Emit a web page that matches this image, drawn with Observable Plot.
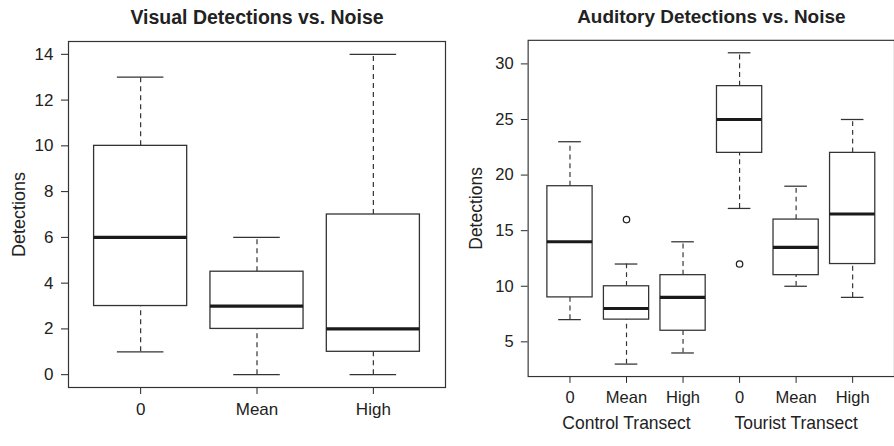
<!DOCTYPE html>
<html>
<head>
<meta charset="utf-8">
<script src="https://cdn.jsdelivr.net/npm/d3@7"></script>
<script src="https://cdn.jsdelivr.net/npm/@observablehq/plot@0.6"></script>
<style>
  html, body { margin: 0; padding: 0; background: #fff; }
  #wrap { position: relative; width: 894px; height: 446px; overflow: hidden; background: #fff; }
  #left { position: absolute; left: 0; top: 0; }
  #right { position: absolute; left: 447px; top: 0; }
</style>
</head>
<body>
<div id="wrap"><div id="left"></div><div id="right"></div></div>
<script>
// ---- Data: Visual detections ----
const visTitle = "Visual Detections vs. Noise";
const visCats = ["0", "Mean", "High"];
const visMin = [1, 0, 0];
const visQ1  = [3, 2, 1];
const visMed = [6, 3, 2];
const visQ3  = [10, 4.5, 7];
const visMax = [13, 6, 14];
const visTicks = [0, 2, 4, 6, 8, 10, 12, 14];

// ---- Data: Auditory detections ----
const audTitle = "Auditory Detections vs. Noise";
const audCats = ["0", "Mean", "High", "0", "Mean", "High"];
const audMin = [7, 3, 4, 17, 10, 9];
const audQ1  = [9, 7, 6, 22, 11, 12];
const audMed = [14, 8, 9, 25, 13.5, 16.5];
const audQ3  = [19, 10, 11, 28, 16, 22];
const audMax = [23, 12, 14, 31, 19, 25];
const audOutGroup = [2, 4];
const audOutValue = [16, 12];
const audTicks = [5, 10, 15, 20, 25, 30];
const groupLabels = ["Control Transect", "Tourist Transect"];
const groupCenters = [2, 5];

const yLabel = "Detections";

const LINE = "#333";
const FONT = "'Liberation Sans', Arial, Helvetica, sans-serif";

function rowsOf(cats, mn, q1, md, q3, mx) {
  return cats.map((c, i) => ({pos: i + 1, cat: c, min: mn[i], q1: q1[i], med: md[i], q3: q3[i], max: mx[i]}));
}

function boxMarks(rows) {
  return [
    Plot.ruleX(rows, {x: "pos", y1: "min", y2: "q1", stroke: LINE, strokeWidth: 1.2, strokeDasharray: "5,4"}),
    Plot.ruleX(rows, {x: "pos", y1: "q3", y2: "max", stroke: LINE, strokeWidth: 1.2, strokeDasharray: "5,4"}),
    Plot.ruleY(rows, {y: "min", x1: d => d.pos - 0.2, x2: d => d.pos + 0.2, stroke: LINE, strokeWidth: 1.3}),
    Plot.ruleY(rows, {y: "max", x1: d => d.pos - 0.2, x2: d => d.pos + 0.2, stroke: LINE, strokeWidth: 1.3}),
    Plot.rect(rows, {x1: d => d.pos - 0.4, x2: d => d.pos + 0.4, y1: "q1", y2: "q3", fill: "white", stroke: LINE, strokeWidth: 1.3}),
    Plot.ruleY(rows, {y: "med", x1: d => d.pos - 0.4, x2: d => d.pos + 0.4, stroke: "#1a1a1a", strokeWidth: 3.2})
  ];
}

function commonText(title, dxLabel) {
  return [
    Plot.text([title], {text: d => d, frameAnchor: "top", lineAnchor: "middle", textAnchor: "middle", dy: -24, fontWeight: "bold", fontSize: 19.5, fill: "#222"}),
    Plot.text([yLabel], {text: d => d, frameAnchor: "left", lineAnchor: "middle", textAnchor: "middle", dx: dxLabel, rotate: -90, fontSize: 18, fill: "#222"}),
    Plot.frame({stroke: LINE, strokeWidth: 1.2})
  ];
}

const visRows = rowsOf(visCats, visMin, visQ1, visMed, visQ3, visMax);
const audRows = rowsOf(audCats, audMin, audQ1, audMed, audQ3, audMax);
const audOut = audOutGroup.map((g, i) => ({pos: g, value: audOutValue[i]}));
const groups = groupLabels.map((t, i) => ({label: t, pos: groupCenters[i]}));

const left = Plot.plot({
  width: 447, height: 446,
  marginLeft: 68, marginRight: 2, marginTop: 41, marginBottom: 59,
  style: {fontFamily: FONT, fontSize: "17px", color: "#222", background: "white", overflow: "visible"},
  x: {type: "linear", domain: [0.38, 3.62], ticks: [1, 2, 3], tickFormat: d => visCats[d - 1], tickSize: 7, tickPadding: 8, label: null},
  y: {domain: [-0.56, 14.56], ticks: visTicks, tickSize: 7, tickPadding: 8, label: null},
  marks: [
    ...boxMarks(visRows),
    ...commonText(visTitle, -49)
  ]
});
document.getElementById("left").appendChild(left);

const right = Plot.plot({
  width: 460, height: 446,
  marginLeft: 83, marginRight: 0, marginTop: 41, marginBottom: 59,
  style: {fontFamily: FONT, fontSize: "17px", color: "#222", background: "white", overflow: "visible"},
  x: {type: "linear", domain: [0.26, 6.74], ticks: [1, 2, 3, 4, 5, 6], tickFormat: d => audCats[d - 1], tickSize: 7, tickPadding: 8, label: null},
  y: {domain: [1.88, 32.12], ticks: audTicks, tickSize: 7, tickPadding: 8, label: null},
  marks: [
    ...boxMarks(audRows),
    Plot.dot(audOut, {x: "pos", y: "value", r: 3.3, stroke: "#222", strokeWidth: 1.3, fill: "none"}),
    Plot.text(groups, {x: "pos", text: "label", frameAnchor: "bottom", lineAnchor: "middle", dy: 48, fontSize: 18, fill: "#222"}),
    ...commonText(audTitle, -53)
  ]
});
document.getElementById("right").appendChild(right);
</script>
</body>
</html>
